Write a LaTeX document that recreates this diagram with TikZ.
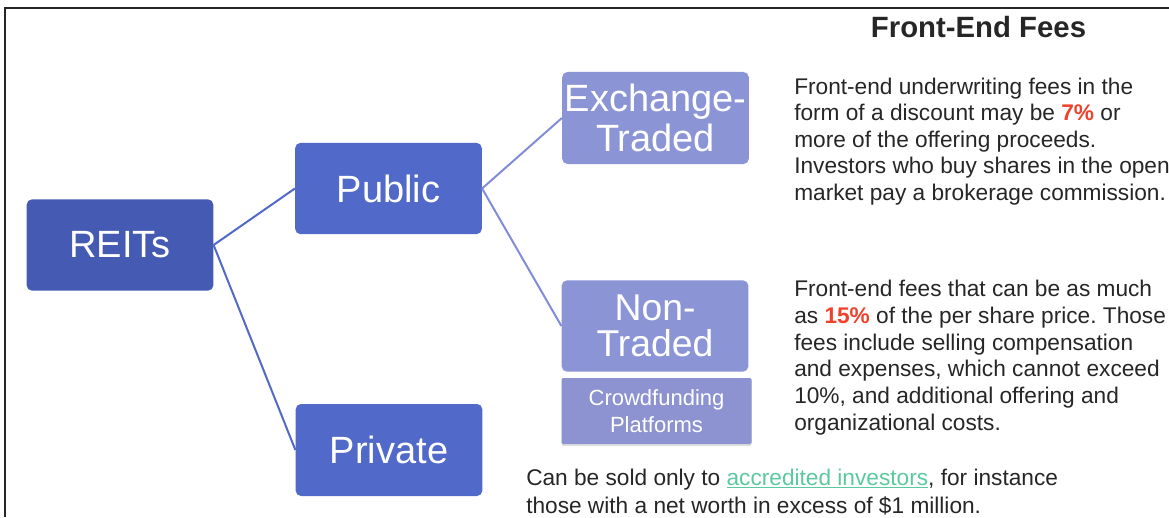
\documentclass[tikz,border=0pt]{standalone}
\usepackage{fontspec}
\setmainfont{Liberation Sans}
\usepackage{tikz}
\usetikzlibrary{positioning,calc,shadows}
\definecolor{reitblue}{RGB}{69,90,179}
\definecolor{midblue}{RGB}{81,105,201}
\definecolor{paleblue}{RGB}{139,148,213}
\definecolor{crowdblue}{RGB}{141,147,208}
\definecolor{linkblue}{RGB}{130,140,214}
\definecolor{bodytext}{RGB}{38,38,38}
\definecolor{feered}{RGB}{238,66,44}
\definecolor{accgreen}{RGB}{92,200,160}
\frenchspacing

\begin{document}
\begin{tikzpicture}[x=0.75pt,y=-0.75pt,
			box/.style={rectangle,rounded corners=4pt,inner sep=0pt,text=white,align=center,
				minimum width=140pt,minimum height=68.5pt},
			bigtxt/.style={font=\fontsize{28.5}{29}\selectfont},
			note/.style={anchor=north west,inner sep=0pt,align=left,text=bodytext},
			link/.style={line width=1.5pt,draw=midblue},
			sublink/.style={line width=1.5pt,draw=linkblue}]
		\path[use as bounding box,clip] (0,0) rectangle (1169,517);
		\draw [line width=1.6pt,black!85] (5,517) -- (5,8) -- (1169,8);
		\path 	(120,245) 	node 	(reits) [box,bigtxt,fill=reitblue] {REITs}
		        (388.5,188.5) node 	(public) [box,bigtxt,fill=midblue] {Public}
		        (389,450) 	node 	(private) [box,bigtxt,fill=midblue,minimum height=69pt] {Private}
		        (655.5,118) node 	(exch) [box,font=\fontsize{28.5}{30}\selectfont,fill=paleblue,minimum height=69pt] {Exchange-\\Traded}
		        (655,326) 	node 	(nontr) [box,font=\fontsize{28}{27.5}\selectfont,fill=paleblue] {Non-\\Traded}
		        (656.5,411) node 	(crowd) [box,rounded corners=1pt,font=\fontsize{16.5}{20.5}\selectfont,fill=crowdblue,
		                                     minimum width=142.5pt,minimum height=49.5pt,
		                                     drop shadow={opacity=0.25,shadow xshift=0pt,shadow yshift=-1.5pt}] {Crowdfunding\\Platforms};
		\node (title) [anchor=base,inner sep=0pt,font=\bfseries\fontsize{22}{24}\selectfont,text=bodytext] at (978.5,38) {Front-End Fees};
		\node (exchnote) [note,font=\fontsize{17}{19.9}\selectfont] at (794,77.5)
			{Front-end underwriting fees in the\\
			 form of a discount may be \textcolor{feered}{\bfseries 7\%} or\\
			 more of the offering proceeds.\\
			 Investors who buy shares in the open\\
			 market pay a brokerage commission.};
		\node (nontrnote) [note,font=\fontsize{17}{20.2}\selectfont] at (794,279.5)
			{Front-end fees that can be as much\\
			 as \textcolor{feered}{\bfseries 15\%} of the per share price. Those\\
			 fees include selling compensation\\
			 and expenses, which cannot exceed\\
			 10\%, and additional offering and\\
			 organizational costs.};
		\node (privnote) [note,font=\fontsize{17}{21}\selectfont] at (526,468.5)
			{Can be sold only to \textcolor{accgreen}{\underline{accredited investors}}, for instance\\
			 those with a net worth in excess of \$1 million.};
		\draw [link] (reits.east) -- (public.west) (reits.east) -- (private.west);
		\draw [sublink] (public.east) -- (exch.west) (public.east) -- (nontr.west);
	\end{tikzpicture}
\end{document}
